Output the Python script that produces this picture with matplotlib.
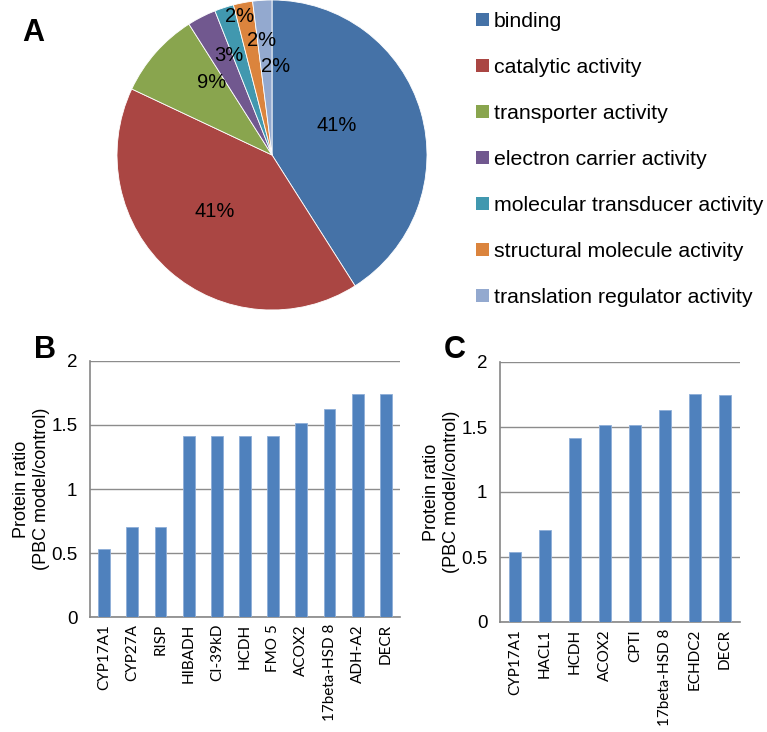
import numpy as np
import matplotlib.pyplot as plt
from matplotlib.patches import Patch

plt.rcParams['font.family'] = ['Liberation Sans', 'DejaVu Sans']

# panel A: molecular function categories
pie_labels = ['binding', 'catalytic activity', 'transporter activity',
              'electron carrier activity', 'molecular transducer activity',
              'structural molecule activity', 'translation regulator activity']
pie_values = [41, 41, 9, 3, 2, 2, 2]
pie_colors = ['#4572A7', '#AA4643', '#89A54E', '#71588F', '#4198AF', '#DB843D', '#93A9CF']
# percent label placement: fraction of radius, angle shift from wedge middle (deg)
pct_dist = [0.46, 0.52, 0.61, 0.70, 0.92, 0.74, 0.57]
pct_shift = [8.6, -3.6, -9, -3.3, -5, -5.8, -6.2]

# panel B
b_names = ['CYP17A1', 'CYP27A', 'RISP', 'HIBADH', 'CI-39kD', 'HCDH', 'FMO 5',
           'ACOX2', '17beta-HSD 8', 'ADH-A2', 'DECR']
b_vals = [0.533, 0.705, 0.705, 1.412, 1.412, 1.412, 1.412, 1.514, 1.623, 1.740, 1.740]

# panel C
c_names = ['CYP17A1', 'HACL1', 'HCDH', 'ACOX2', 'CPTI', '17beta-HSD 8', 'ECHDC2', 'DECR']
c_vals = [0.536, 0.705, 1.418, 1.518, 1.518, 1.628, 1.756, 1.744]

W, H = 767, 732
fig = plt.figure(figsize=(W / 100, H / 100), dpi=100)

def px_axes(x0, y0, x1, y1):
    return fig.add_axes([x0 / W, 1 - y1 / H, (x1 - x0) / W, (y1 - y0) / H])

# --- pie ---
axA = px_axes(117, 0, 427, 310)
wedges, _ = axA.pie(pie_values, colors=pie_colors, startangle=90, counterclock=False,
                    wedgeprops=dict(edgecolor='white', linewidth=0.6))
for w, v, d, s in zip(wedges, pie_values, pct_dist, pct_shift):
    ang = np.deg2rad((w.theta1 + w.theta2) / 2 + s)
    axA.text(d * np.cos(ang), d * np.sin(ang), f'{v}%', ha='center', va='center', fontsize=14.5)
axA.set_xlim(-1, 1)
axA.set_ylim(-1, 1)
axA.set_aspect('auto')

handles = [Patch(facecolor=c, edgecolor='none') for c in pie_colors]
fig.legend(handles, pie_labels, loc='upper left', bbox_to_anchor=(476 / W, 1 - 12 / H),
           frameon=False, fontsize=15.3, handlelength=0.6, handleheight=0.6,
           handletextpad=0.25, labelspacing=1.27, borderpad=0, borderaxespad=0)

fig.text(33 / W, 1 - 33 / H, 'A', fontsize=22, fontweight='bold', ha='center', va='center')
fig.text(45 / W, 1 - 350 / H, 'B', fontsize=22, fontweight='bold', ha='center', va='center')
fig.text(455 / W, 1 - 350 / H, 'C', fontsize=22, fontweight='bold', ha='center', va='center')

def bar_panel(ax, names, vals, width):
    x = np.arange(len(names))
    ax.bar(x, vals, width=width, color='#4F81BD', edgecolor='#8EAED8', linewidth=0.6, zorder=3)
    ax.set_xlim(-0.5, len(names) - 0.5)
    ax.set_ylim(0, 2)
    ax.set_yticks([0, 0.5, 1, 1.5, 2])
    ax.set_yticklabels(['0', '0.5', '1', '1.5', '2'], fontsize=13.5)
    ax.set_xticks(x)
    ax.set_xticklabels(names, rotation=90, fontsize=11, family=['Lato', 'DejaVu Sans'])
    ax.tick_params(axis='both', length=0)
    ax.tick_params(axis='y', pad=9)
    ax.tick_params(axis='x', pad=5)
    ax.grid(axis='y', color='#8C8C8C', linewidth=1, zorder=0)
    for s in ['top', 'right']:
        ax.spines[s].set_visible(False)
    for s in ['left', 'bottom']:
        ax.spines[s].set_color('#868686')
        ax.spines[s].set_linewidth(1.2)
    ax.set_ylabel('Protein ratio\n(PBC model/control)', fontsize=13, labelpad=1, linespacing=1.25)

axB = px_axes(90, 361, 400, 617)
bar_panel(axB, b_names, b_vals, 0.42)

axC = px_axes(500, 362, 740, 622)
bar_panel(axC, c_names, c_vals, 0.39)

fig.savefig('out.png', dpi=100)
